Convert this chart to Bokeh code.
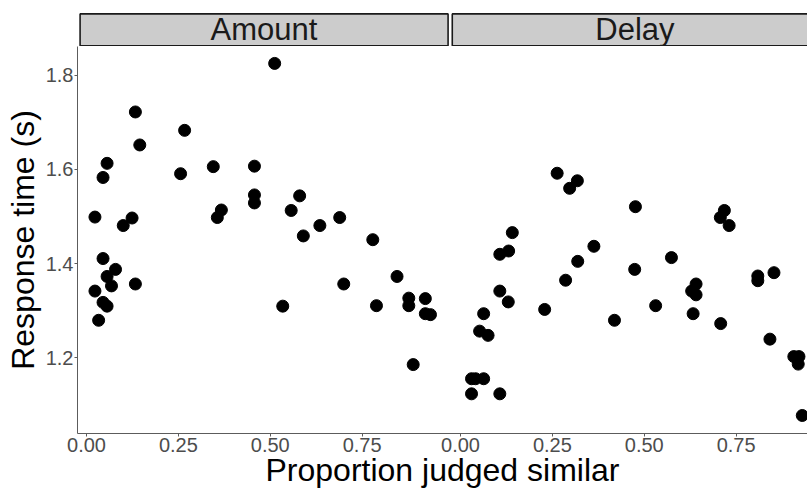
from bokeh.plotting import figure
from bokeh.layouts import column
from bokeh.models import Range1d, FixedTicker, CustomJSTickFormatter
from bokeh.core.properties import value
from bokeh.embed import file_html
from bokeh.resources import INLINE

# ---------------- data ----------------
panel_names = ["Amount", "Delay"]

amount_x = [0.023, 0.045, 0.056, 0.100, 0.124, 0.133, 0.145, 0.256, 0.267, 0.345,
            0.356, 0.367, 0.457, 0.457, 0.457, 0.512, 0.557, 0.580, 0.590, 0.635,
            0.689, 0.779, 0.045, 0.023, 0.056, 0.079, 0.068, 0.045, 0.056, 0.033,
            0.133, 0.534, 0.700, 0.789, 0.845, 0.877, 0.877, 0.922, 0.922, 0.936,
            0.889]
amount_y = [1.499, 1.583, 1.613, 1.481, 1.497, 1.722, 1.652, 1.591, 1.683, 1.606,
            1.498, 1.514, 1.607, 1.546, 1.529, 1.825, 1.513, 1.544, 1.459, 1.481,
            1.498, 1.451, 1.411, 1.342, 1.373, 1.388, 1.353, 1.318, 1.310, 1.280,
            1.357, 1.310, 1.357, 1.311, 1.373, 1.327, 1.311, 1.326, 1.294, 1.292,
            1.186]

delay_x = [0.263, 0.318, 0.297, 0.476, 0.718, 0.707, 0.731, 0.141, 0.363, 0.131,
           0.107, 0.319, 0.574, 0.474, 0.286, 0.809, 0.809, 0.853, 0.641, 0.629,
           0.641, 0.107, 0.130, 0.229, 0.531, 0.633, 0.063, 0.052, 0.075, 0.419,
           0.708, 0.842, 0.907, 0.921, 0.919, 0.030, 0.041, 0.063, 0.030, 0.107,
           0.930]
delay_y = [1.592, 1.576, 1.560, 1.521, 1.513, 1.498, 1.481, 1.466, 1.437, 1.427,
           1.420, 1.405, 1.413, 1.388, 1.365, 1.374, 1.364, 1.381, 1.357, 1.342,
           1.334, 1.342, 1.319, 1.303, 1.311, 1.294, 1.294, 1.257, 1.248, 1.280,
           1.273, 1.240, 1.203, 1.203, 1.187, 1.156, 1.156, 1.156, 1.124, 1.124,
           1.078]

x_ticks = [0.0, 0.25, 0.5, 0.75]
y_ticks = [1.2, 1.4, 1.6, 1.8]

x_title = "Proportion judged similar"
y_title = "Response time (s)"

# ---------------- layout constants ----------------
FONT = "Liberation Sans"
W, H = 807, 490
STRIP_H = 46
LEFT = 77
PX_PER_X = 367.5
X0_LEFT = 9.0      # px from frame left to x=0 of left panel
X0_RIGHT = 383.0   # px from frame left to x=0 of right panel
frame_w = W - LEFT
x_start = -X0_LEFT / PX_PER_X
x_end = x_start + frame_w / PX_PER_X
shift = (X0_RIGHT - X0_LEFT) / PX_PER_X
y_start, y_end = 1.0398, 1.8609

AXIS_COL = "#5c5c5c"
TICK_LAB_COL = "#4d4d4d"

# ---------------- strip figure ----------------
s = figure(width=W, height=STRIP_H, toolbar_location=None, output_backend="svg",
           x_range=Range1d(0, W - LEFT + 2), y_range=Range1d(0, STRIP_H - 11),
           min_border_left=LEFT - 2, min_border_right=0, min_border_top=11,
           min_border_bottom=0, x_axis_location=None, y_axis_location=None)
s.grid.visible = False
s.outline_line_color = None
s.background_fill_color = "white"
s.border_fill_color = "white"

def px(page_x):
    return page_x - (LEFT - 2)

strip_l = [px(77.6), px(450.8)]
strip_r = [px(446.6), px(W + 20)]
s.quad(left=strip_l, right=strip_r, bottom=[0.8, 0.8], top=[32.6, 32.6],
       fill_color="#cccccc", line_color="#1a1a1a", line_width=1.6)
s.text(x=[px(262), px(634)], y=[17.3, 17.3], text=panel_names,
       text_align="center", text_baseline="middle",
       text_font=value(FONT), text_font_size="31px", text_color="#1a1a1a")

# ---------------- main panel figure ----------------
p = figure(width=W, height=H - STRIP_H, toolbar_location=None, output_backend="svg",
           x_range=Range1d(x_start, x_end), y_range=Range1d(y_start, y_end),
           min_border_left=LEFT, min_border_right=0, min_border_top=0,
           min_border_bottom=53)
p.extra_x_ranges = {"delay": Range1d(x_start - shift, x_end - shift)}
p.grid.visible = False
p.outline_line_color = None
p.background_fill_color = "white"
p.border_fill_color = "white"

p.scatter(amount_x, amount_y, size=12, fill_color="black", line_color="black")
p.scatter(delay_x, delay_y, size=12, fill_color="black", line_color="black",
          x_range_name="delay")

xa = p.xaxis[0]
xa.ticker = FixedTicker(ticks=x_ticks + [t + shift for t in x_ticks])
xa.formatter = CustomJSTickFormatter(args=dict(shift=shift), code="""
    let v = tick > 0.99 ? tick - shift : tick;
    if (Math.abs(v) < 1e-9) { v = 0; }
    return v.toFixed(2);
""")
ya = p.yaxis[0]
ya.ticker = FixedTicker(ticks=y_ticks)

for ax in (xa, ya):
    ax.axis_line_color = AXIS_COL
    ax.axis_line_width = 1
    ax.major_tick_line_color = AXIS_COL
    ax.major_tick_line_width = 1
    ax.major_tick_out = 3
    ax.major_tick_in = 0
    ax.minor_tick_line_color = None
    ax.major_label_text_font = FONT
    ax.major_label_text_font_size = "20px"
    ax.major_label_text_color = TICK_LAB_COL
    ax.axis_label_text_font = FONT
    ax.axis_label_text_font_size = "32px"
    ax.axis_label_text_font_style = "normal"
    ax.axis_label_text_color = "black"

xa.axis_label = x_title
xa.major_label_standoff = 1
xa.axis_label_standoff = -3
ya.axis_label = y_title
ya.major_label_standoff = 1
ya.axis_label_standoff = 2

layout = column(s, p, spacing=0)
open("out.html", "w").write(file_html(layout, INLINE))
